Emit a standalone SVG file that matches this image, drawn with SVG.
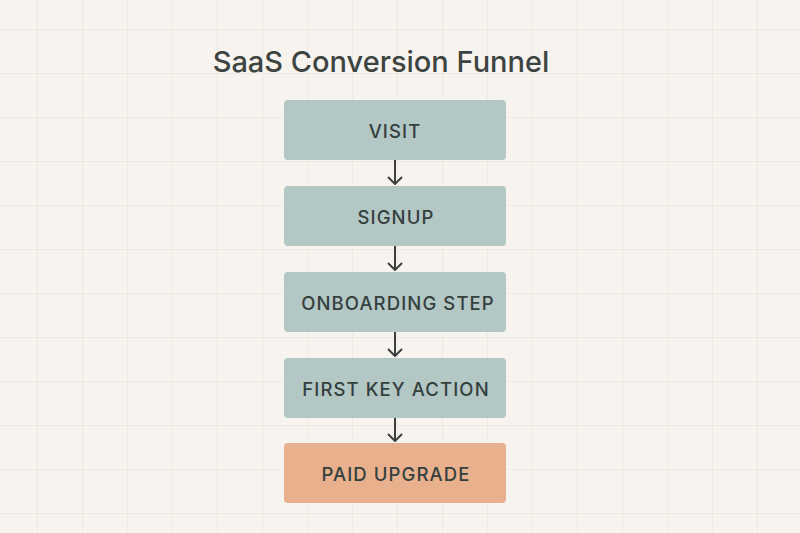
<svg xmlns="http://www.w3.org/2000/svg" width="800" height="533" viewBox="0 0 800 533">
<defs>
<pattern id="grid" x="37" y="29" width="45" height="44" patternUnits="userSpaceOnUse">
<path d="M0 0V44M0 0H45" fill="none" stroke="#ebe6e0" stroke-width="1.5"/>
</pattern>
<marker id="arr" viewBox="0 0 10 16" refX="9" refY="8" markerWidth="10" markerHeight="16" markerUnits="userSpaceOnUse" orient="auto">
<path d="M2 1 L9 8 L2 15" fill="none" stroke="#3b403f" stroke-width="2"/>
</marker>
</defs>
<style>
.box{fill:#b3c7c5;}
.paid{fill:#e8b08c;}
.lbl{font-family:Inter,"Liberation Sans",sans-serif;font-size:18.5px;font-weight:500;fill:#34403e;text-anchor:middle;letter-spacing:1.1px;}
.title{font-family:Inter,"Liberation Sans",sans-serif;font-size:29px;font-weight:500;fill:#3d4442;text-anchor:middle;}
.edge{stroke:#3b403f;stroke-width:2;fill:none;}
</style>
<rect width="800" height="533" fill="#f7f4f0"/>
<rect width="800" height="533" fill="url(#grid)"/>
<text class="title" x="381" y="72">SaaS Conversion Funnel</text>
<g id="visit"><rect class="box" x="284" y="100" width="222" height="60" rx="4"/><text class="lbl" x="395" y="138">VISIT</text></g>
<g id="signup"><rect class="box" x="284" y="186" width="222" height="60" rx="4"/><text class="lbl" x="396" y="224">SIGNUP</text></g>
<g id="onboarding"><rect class="box" x="284" y="272" width="222" height="60" rx="4"/><text class="lbl" x="398" y="310">ONBOARDING STEP</text></g>
<g id="firstkey"><rect class="box" x="284" y="358" width="222" height="60" rx="4"/><text class="lbl" x="396" y="396">FIRST KEY ACTION</text></g>
<g id="paid"><rect class="paid" x="284" y="443" width="222" height="60" rx="4"/><text class="lbl" x="396" y="481">PAID UPGRADE</text></g>
<g id="connectors">
<path class="edge" d="M395 160V184" marker-end="url(#arr)"/>
<path class="edge" d="M395 246V270" marker-end="url(#arr)"/>
<path class="edge" d="M395 332V356" marker-end="url(#arr)"/>
<path class="edge" d="M395 418V441" marker-end="url(#arr)"/>
</g>
</svg>
